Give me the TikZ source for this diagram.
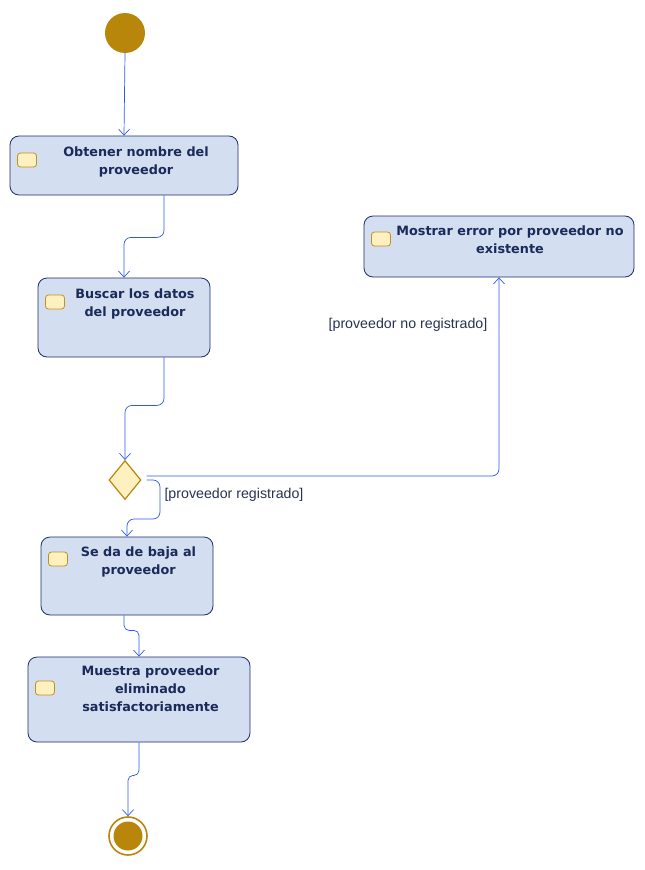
\documentclass[tikz,border=0pt]{standalone}
\usepackage{fontspec}
\setmainfont{DejaVu Sans}
\newfontfamily\lblfont{Liberation Sans}
\usetikzlibrary{arrows.meta,shapes.geometric,calc}
\definecolor{boxfill}{RGB}{211,222,240}
\definecolor{boxline}{RGB}{30,45,110}
\definecolor{txtcol}{RGB}{27,42,90}
\definecolor{flowcol}{RGB}{45,90,240}
\definecolor{gold}{RGB}{184,134,11}
\definecolor{iconfill}{RGB}{255,240,192}
\definecolor{iconline}{RGB}{192,144,32}
\definecolor{lblcol}{RGB}{40,50,80}
\begin{document}
\begin{tikzpicture}[x=1pt,y=-1pt,
  actbox/.style={draw=boxline,fill=boxfill,rounded corners=9pt,line width=0.8pt,inner sep=0pt},
  acttext/.style={anchor=north,align=center,text=txtcol,font=\bfseries\fontsize{12.8}{18}\selectfont,inner sep=0pt},
  acticon/.style={draw=iconline,fill=iconfill,rounded corners=3pt,minimum width=19pt,minimum height=14pt,inner sep=0pt,line width=0.8pt},
  flow/.style={draw=flowcol,line width=0.7pt,rounded corners=7pt,-{Straight Barb[length=6pt,width=11pt,line width=0.7pt]}},
  guard/.style={text=lblcol,font=\lblfont\fontsize{14.2}{16}\selectfont,inner sep=0pt}]
\useasboundingbox (0,0) rectangle (645,870);
% start
\node[circle,fill=gold,minimum size=40pt,inner sep=0pt] (start) at (125,33) {};
% boxes
\node[actbox,minimum width=228pt,minimum height=59pt] (b1) at (124,165.5) {};
\node[acticon] (i1) at (27,160) {};
\node[acttext] (t1) at (136,146.5) {Obtener nombre del\\proveedor};

\node[actbox,minimum width=172pt,minimum height=79pt] (b2) at (124,317.5) {};
\node[acticon] (i2) at (55,302) {};
\node[acttext] (t2) at (135,288.5) {Buscar los datos\\del proveedor};

\node[actbox,minimum width=270pt,minimum height=61pt] (b3) at (499,246.5) {};
\node[acticon] (i3) at (381,239) {};
\node[acttext] (t3) at (510,225.5) {Mostrar error por proveedor no\\existente};

\node[diamond,draw=gold,fill=iconfill,line width=1.2pt,minimum width=32pt,minimum height=39pt,inner sep=0pt] (d) at (125,480) {};

\node[actbox,minimum width=172pt,minimum height=78pt] (b4) at (127,576) {};
\node[acticon] (i4) at (58,559) {};
\node[acttext] (t4) at (138.5,546.5) {Se da de baja al\\proveedor};

\node[actbox,minimum width=222pt,minimum height=85pt] (b5) at (139,699.5) {};
\node[acticon] (i5) at (45,688) {};
\node[acttext] (t5) at (150.5,665.5) {Muestra proveedor\\eliminado\\satisfactoriamente};

% end
\node[circle,draw=gold,line width=1.6pt,fill=white,minimum size=38pt,inner sep=0pt] (end) at (128,836) {};
\node[circle,fill=gold,minimum size=29pt,inner sep=0pt] (endin) at (128,836) {};

% flows
\draw[flow] (start.south) -- (b1.north);
\draw[flow] ([xshift=40pt]b1.south) -- ++(0,42) -| (b2.north);
\draw[flow] ([xshift=40pt]b2.south) -- ++(0,48) -| (d.north);
\draw[flow] ([shift={(5pt,4pt)}]d.east) -| (b3.south);
\draw[flow] ([xshift=5pt]d.east) -| ([yshift=-39pt]d.east -| 160,0) -| (b4.north);
\draw[flow,rounded corners=5pt] ([xshift=-3pt]b4.south) -- ++(0,15) -| (b5.north);
\draw[flow,rounded corners=5pt] (b5.south) -- ++(0,33) -| (end.north);

% guards
\node[guard] (g1) at (408,325) {[proveedor no registrado]};
\node[guard] (g2) at (234,495) {[proveedor registrado]};
\end{tikzpicture}
\end{document}
